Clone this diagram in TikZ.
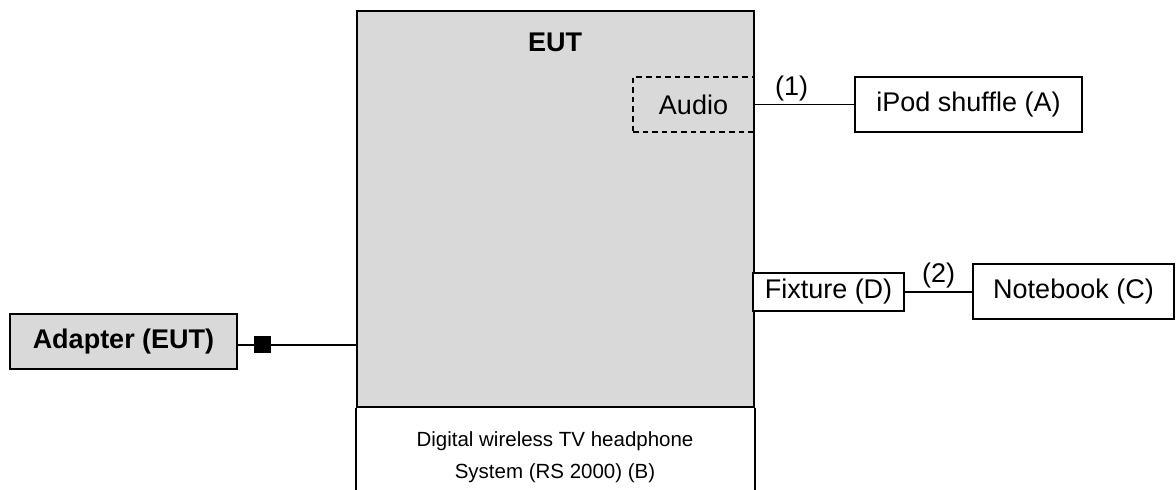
\documentclass[tikz,border=0pt]{standalone}
\usepackage{fontspec}
\setmainfont{Liberation Sans}
\usepackage{tikz}
\usetikzlibrary{calc}
\definecolor{eutgray}{HTML}{D9D9D9}
\tikzset{box/.style={draw,line width=1pt,inner sep=0pt}}
\tikzset{graybox/.style={box,fill=eutgray}}
\tikzset{wire/.style={line width=0.8pt}}
\tikzset{lbl/.style={above,inner sep=1.5pt}}
\tikzset{plug/.style={fill,inner sep=0pt,minimum size=8.5pt}}

\begin{document}
\begin{tikzpicture}[x=0.5pt,y=-0.5pt,font=\fontsize{13.5}{16}\selectfont]
                    \useasboundingbox (0,0) rectangle (1176,490);
                    \node[graybox, minimum width=198.5pt, minimum height=198pt] (eut) at (555.5,209) {};
                    \node[font=\fontsize{13.5}{16}\selectfont\bfseries] (eutname) at (555,42) {EUT};
                    \node[box, dash pattern=on 2.8pt off 2pt, minimum width=60.5pt, minimum height=27.5pt] (audio) at (693.5,104.5) {Audio};
                    \node[box, fill=white, minimum width=113.5pt, minimum height=27.5pt] (ipod) at (968.5,104.5) {iPod shuffle (A)};
                    \node[box, fill=white, minimum width=75.5pt, minimum height=19pt] (fixture) at (828.5,292) {Fixture (D)};
                    \node[box, fill=white, minimum width=100.5pt, minimum height=27.5pt] (notebook) at (1073.5,292) {Notebook (C)};
                    \node[graybox, minimum width=113.5pt, minimum height=27.5pt, font=\fontsize{13.5}{16}\selectfont\bfseries] (adapter) at (123.5,341.5) {Adapter (EUT)};
                    \node[plug] (dc) at (262.5,345) {};
                    \node[align=center, font=\fontsize{10.25}{16}\selectfont] (rs) at (555,457) {Digital wireless TV headphone\\System (RS 2000) (B)};

                    \draw[wire] (audio.east) -- node[lbl, pos=0.37] {(1)} (ipod.west);
                    \draw[wire] (fixture.east) -- node[lbl] {(2)} (notebook.west);
                    \draw[wire] (adapter.east |- dc) -- (dc) -- (dc -| eut.west);
                    \draw[line width=1pt] (eut.south west) -- ++(0,83);
                    \draw[line width=1pt] (eut.south east) -- ++(0,83);
                \end{tikzpicture}
\end{document}
